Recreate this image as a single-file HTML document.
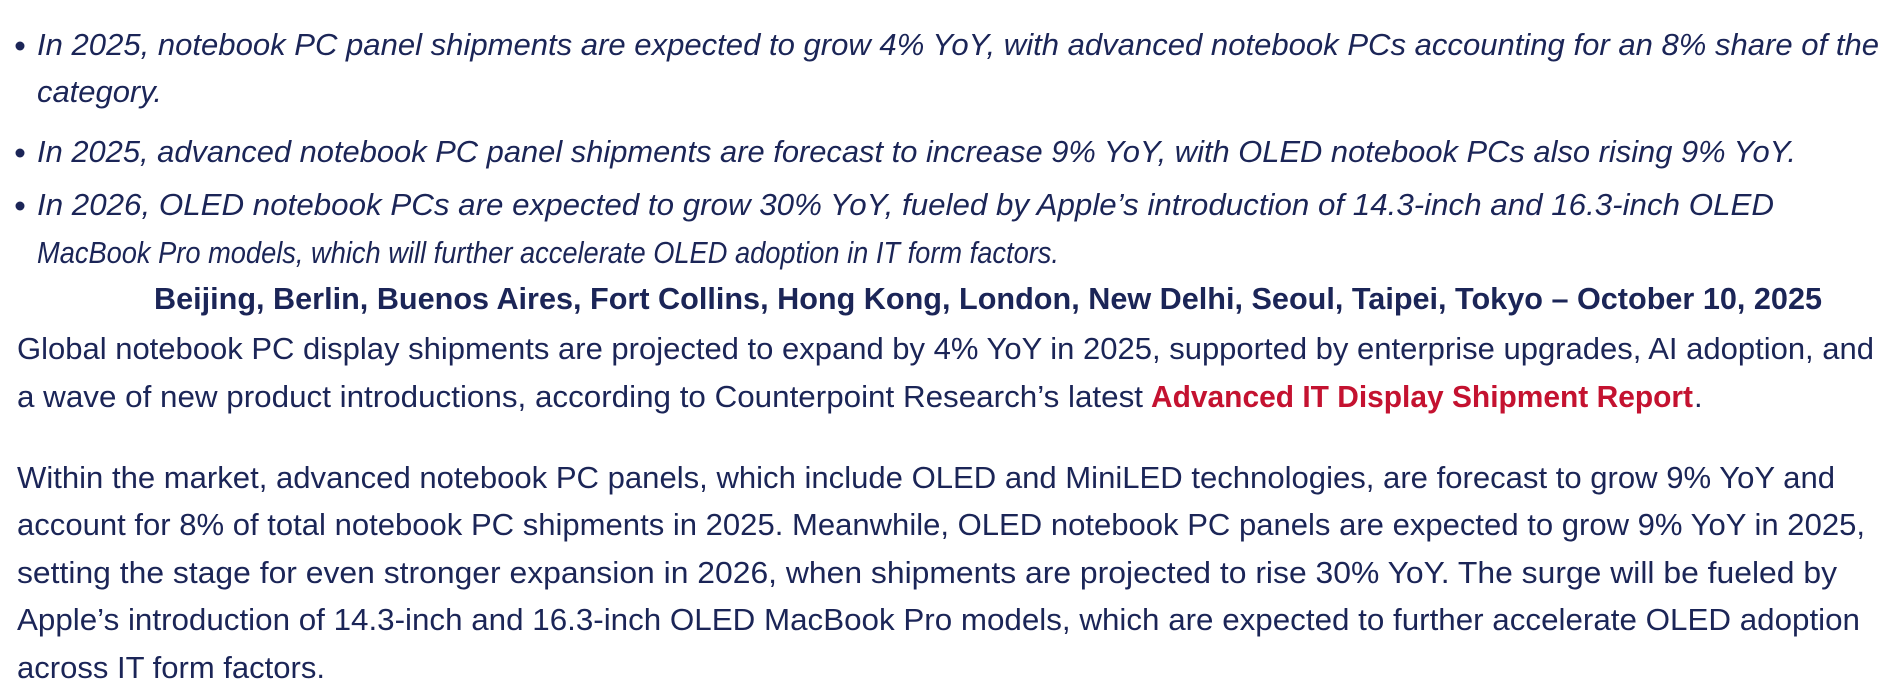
<!DOCTYPE html>
<html><head><meta charset="utf-8"><style>
html,body{margin:0;padding:0;background:#fff;width:1886px;height:700px;overflow:hidden}
svg text{font-family:"Liberation Sans",sans-serif;font-size:31px;fill:#1b2557}
.i{font-style:italic}
.b{font-weight:bold}
</style></head><body>
<svg width="1886" height="700" xmlns="http://www.w3.org/2000/svg">
<circle cx="20" cy="46" r="4.5" fill="#1b2557"/>
<circle cx="20" cy="153" r="4.5" fill="#1b2557"/>
<circle cx="20" cy="206" r="4.5" fill="#1b2557"/>
<text class="i" x="37" y="55" textLength="1842" lengthAdjust="spacingAndGlyphs">In 2025, notebook PC panel shipments are expected to grow 4% YoY, with advanced notebook PCs accounting for an 8% share of the</text>
<text class="i" x="37" y="102" textLength="125" lengthAdjust="spacingAndGlyphs">category.</text>
<text class="i" x="37" y="162" textLength="1759" lengthAdjust="spacingAndGlyphs">In 2025, advanced notebook PC panel shipments are forecast to increase 9% YoY, with OLED notebook PCs also rising 9% YoY.</text>
<text class="i" x="37" y="215" textLength="1737" lengthAdjust="spacingAndGlyphs">In 2026, OLED notebook PCs are expected to grow 30% YoY, fueled by Apple’s introduction of 14.3-inch and 16.3-inch OLED</text>
<text class="i" x="37" y="263" textLength="1022" lengthAdjust="spacingAndGlyphs">MacBook Pro models, which will further accelerate OLED adoption in IT form factors.</text>
<text class="b" x="154" y="309" textLength="1668" lengthAdjust="spacingAndGlyphs">Beijing, Berlin, Buenos Aires, Fort Collins, Hong Kong, London, New Delhi, Seoul, Taipei, Tokyo – October 10, 2025</text>
<text x="17" y="359" textLength="1857" lengthAdjust="spacingAndGlyphs">Global notebook PC display shipments are projected to expand by 4% YoY in 2025, supported by enterprise upgrades, AI adoption, and</text>
<text x="17" y="407" textLength="1126" lengthAdjust="spacingAndGlyphs">a wave of new product introductions, according to Counterpoint Research’s latest</text>
<text x="1151" y="407" textLength="542" lengthAdjust="spacingAndGlyphs" style="fill:#c41230;font-weight:bold">Advanced IT Display Shipment Report</text>
<text x="1694" y="407">.</text>
<text x="17" y="488" textLength="1818" lengthAdjust="spacingAndGlyphs">Within the market, advanced notebook PC panels, which include OLED and MiniLED technologies, are forecast to grow 9% YoY and</text>
<text x="17" y="535" textLength="1848" lengthAdjust="spacingAndGlyphs">account for 8% of total notebook PC shipments in 2025. Meanwhile, OLED notebook PC panels are expected to grow 9% YoY in 2025,</text>
<text x="17" y="583" textLength="1820" lengthAdjust="spacingAndGlyphs">setting the stage for even stronger expansion in 2026, when shipments are projected to rise 30% YoY. The surge will be fueled by</text>
<text x="17" y="630" textLength="1843" lengthAdjust="spacingAndGlyphs">Apple’s introduction of 14.3-inch and 16.3-inch OLED MacBook Pro models, which are expected to further accelerate OLED adoption</text>
<text x="17" y="678" textLength="308" lengthAdjust="spacingAndGlyphs">across IT form factors.</text>
</svg>
</body></html>
